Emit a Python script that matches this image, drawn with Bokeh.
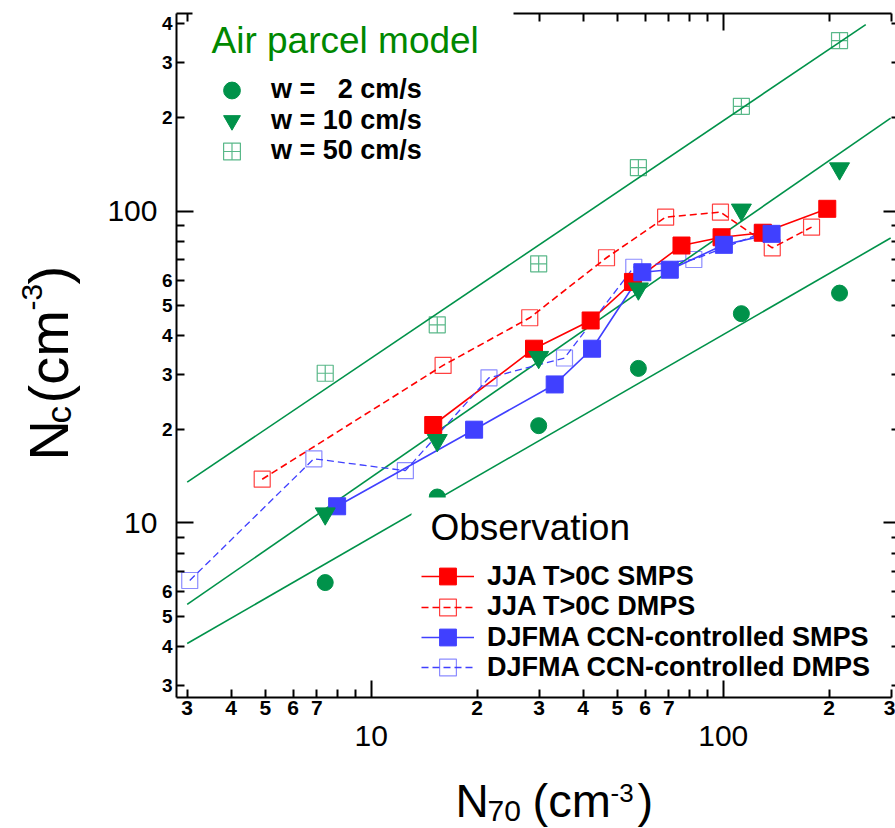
import math
from bokeh.plotting import figure
from bokeh.models import (LogAxis, FixedTicker, Range1d, Legend, LegendItem, Label,
                          BoxAnnotation)
from bokeh.embed import file_html
from bokeh.resources import INLINE

# ---------------- data ----------------
model_x = [7.4, 15.4, 29.9, 57.4, 112.6, 214]
model_w2_y = [6.43, 12.1, 20.5, 31.3, 46.9, 54.6]
model_w10_y = [10.7, 18.4, 34.0, 56.4, 101, 137]
model_w50_y = [30.2, 43.2, 67.8, 138, 217, 353]

fit_w50_x = [3, 254]
fit_w50_y = [13.5, 397]
fit_w10_x = [3, 299]
fit_w10_y = [5.47, 199]
fit_w2_x = [3, 299]
fit_w2_y = [4.1, 82]

jja_smps_x = [15.0, 29.0, 42.0, 55.4, 76.1, 98.9, 129.6, 197.5]
jja_smps_y = [20.6, 36.2, 44.6, 59.3, 77.6, 82.5, 85.3, 101.8]
jja_dmps_x = [4.9, 16.0, 28.2, 46.6, 68.6, 98.2, 137.8, 178.2]
jja_dmps_y = [13.8, 32.0, 45.5, 70.9, 95.7, 99.3, 76.3, 88.9]
djf_smps_x = [8.0, 19.6, 33.2, 42.4, 58.9, 70.5, 100.4, 137.2]
djf_smps_y = [11.3, 19.9, 27.8, 36.2, 63.7, 64.9, 78.0, 84.6]
djf_dmps_x = [3.05, 6.87, 12.5, 21.6, 35.4, 55.7, 82.5, 129.1]
djf_dmps_y = [6.53, 16.05, 14.7, 29.2, 33.8, 66.1, 70.0, 85.3]

x_major = [10, 100]
x_minor = [3, 4, 5, 6, 7, 8, 9, 20, 30, 40, 50, 60, 70, 80, 90, 200, 300]
x_minor_labels = {3: "3", 4: "4", 5: "5", 6: "6", 7: "7", 20: "2", 30: "3", 40: "4",
                  50: "5", 60: "6", 70: "7", 200: "2", 300: "3"}
y_major = [10, 100]
y_minor = [3, 4, 5, 6, 7, 8, 9, 20, 30, 40, 50, 60, 70, 80, 90, 200, 300, 400]
y_minor_labels = {3: "3", 4: "4", 5: "5", 6: "6", 20: "2", 30: "3", 40: "4",
                  50: "5", 60: "6", 200: "2", 300: "3", 400: "4"}
major_labels = {10: "10", 100: "100"}

model_labels = ["w =   2 cm/s", "w = 10 cm/s", "w = 50 cm/s"]
obs_labels = ["JJA T>0C SMPS", "JJA T>0C DMPS",
              "DJFMA CCN-controlled SMPS", "DJFMA CCN-controlled DMPS"]

GREEN = "#00924A"
TITLE_GREEN = "#008800"
RED = "#FF0000"
BLUE = "#4040FF"
FONT = "Liberation Sans"

# axis box limits (data units) and full-canvas view ranges
X_LO, X_HI = 2.797, 300.6
Y_LO, Y_HI = 2.750, 430.9
W, H = 895, 828

p = figure(width=W, height=H, x_axis_type="log", y_axis_type="log",
           x_range=Range1d(0.8845, 308.6), y_range=Range1d(1.0446, 474.5),
           x_axis_location=None, y_axis_location=None,
           output_backend="svg", toolbar_location=None,
           min_border=0, min_border_left=0, min_border_right=0,
           min_border_top=0, min_border_bottom=0)
p.outline_line_color = None
for g in p.grid:
    g.visible = False
p.background_fill_color = "white"
p.border_fill_color = "white"


def tick_axis(ticks, minor, loc, bounds, tick_in, minor_in, tick_out=0, minor_out=0, line=True):
    ax = LogAxis(ticker=FixedTicker(ticks=ticks, minor_ticks=minor),
                 fixed_location=loc, bounds=bounds)
    ax.major_label_overrides = {t: "" for t in ticks}
    ax.major_label_text_font_size = "1px"
    ax.major_label_standoff = 0
    ax.major_tick_in = tick_in
    ax.major_tick_out = tick_out
    ax.minor_tick_in = minor_in
    ax.minor_tick_out = minor_out
    ax.major_tick_line_width = 2
    ax.minor_tick_line_width = 2
    ax.axis_line_width = 2
    ax.major_tick_line_color = "black"
    ax.minor_tick_line_color = "black"
    ax.axis_line_color = "black" if line else None
    return ax


def label_axis(ticks, labels, loc, bounds, size, style, standoff):
    ax = LogAxis(ticker=FixedTicker(ticks=ticks, minor_ticks=[]),
                 fixed_location=loc, bounds=bounds)
    ax.major_label_overrides = labels
    ax.axis_line_color = None
    ax.major_tick_line_color = None
    ax.minor_tick_line_color = None
    ax.major_tick_in = 0
    ax.major_tick_out = 0
    ax.minor_tick_in = 0
    ax.minor_tick_out = 0
    ax.major_label_standoff = standoff
    ax.major_label_text_font = FONT
    ax.major_label_text_font_size = size
    ax.major_label_text_font_style = style
    ax.major_label_text_color = "black"
    return ax


xb = (X_LO, X_HI)
yb = (Y_LO, Y_HI)
# bottom
p.add_layout(tick_axis(x_major, x_minor, Y_LO, xb, 17, 8), "below")
p.add_layout(label_axis(list(x_minor_labels.keys()), x_minor_labels, Y_LO, xb, "21px", "bold", 3), "below")
p.add_layout(label_axis(x_major, major_labels, Y_LO, xb, "30px", "normal", 28), "below")
# left
p.add_layout(tick_axis(y_major, y_minor, X_LO, yb, 17, 8), "left")
p.add_layout(label_axis(list(y_minor_labels.keys()), y_minor_labels, X_LO, yb, "19px", "bold", 4), "left")
p.add_layout(label_axis(y_major, major_labels, X_LO, yb, "30px", "normal", 19), "left")
# top and right
p.add_layout(tick_axis(x_major, x_minor, Y_HI, xb, 17, 8), "above")
p.add_layout(tick_axis(y_major, y_minor, X_HI, yb, 8, 0, 4, 4, line=False), "right")

# model fit lines
p.line(fit_w50_x, fit_w50_y, line_color=GREEN, line_width=1.6)
p.line(fit_w10_x, fit_w10_y, line_color=GREEN, line_width=1.6)
p.line(fit_w2_x, fit_w2_y, line_color=GREEN, line_width=1.6)

# observations
r1l = p.line(jja_smps_x, jja_smps_y, line_color=RED, line_width=1.6)
r2l = p.line(jja_dmps_x, jja_dmps_y, line_color=RED, line_width=1.6, line_dash="7 4")
r3l = p.line(djf_smps_x, djf_smps_y, line_color=BLUE, line_width=1.6)
r4l = p.line(djf_dmps_x, djf_dmps_y, line_color=BLUE, line_width=1.3, line_dash="7 4")
r2m = p.scatter(jja_dmps_x, jja_dmps_y, marker="square", size=16, fill_color=None,
                line_color=RED, line_width=1.2, line_alpha=0.75)
r4m = p.scatter(djf_dmps_x, djf_dmps_y, marker="square", size=16, fill_color=None,
                line_color=BLUE, line_width=1.2, line_alpha=0.6)
r1m = p.scatter(jja_smps_x, jja_smps_y, marker="square", size=17, fill_color=RED, line_color=RED)
r3m = p.scatter(djf_smps_x, djf_smps_y, marker="square", size=17, fill_color=BLUE, line_color=BLUE)

# model points
m2 = p.scatter(model_x, model_w2_y, marker="circle", size=16, fill_color=GREEN, line_color=GREEN)
m10 = p.scatter(model_x, model_w10_y, marker="inverted_triangle", size=20, fill_color=GREEN, line_color=GREEN)
m50 = p.scatter(model_x, model_w50_y, marker="square_cross", size=16, fill_color=None,
                line_color=GREEN, line_width=1.2, line_alpha=0.65)

# ---------------- legend blocks (canvas px: origin top-left) ----------------
def white_box(l, r, t, b):
    p.add_layout(BoxAnnotation(left=l, right=r, top=t, bottom=b,
                               left_units="canvas", right_units="canvas",
                               top_units="canvas", bottom_units="canvas",
                               fill_color="white", fill_alpha=1.0, line_color=None,
                               line_alpha=0))


MID = 0.3465  # distance (in em) from text-box centre to the alphabetic baseline


def lab(x, base, text, px, color="black", rotated=False):
    """x: left start of text (canvas px); base: baseline position (canvas px).
    For rotated text, x is the baseline column and base is the start row."""
    if rotated:
        sx, sy, ang = x - MID * px, H - base, math.pi / 2
    else:
        sx, sy, ang = x, H - (base - MID * px), 0.0
    p.add_layout(Label(x=sx, y=sy, x_units="screen", y_units="screen", text=text,
                       text_font=FONT, text_font_size=f"{px}px", text_color=color,
                       text_baseline="middle", text_align="left", angle=ang))


def legend_row(label, renderers, glyph_left, center_y, gw, standoff):
    lg = Legend(items=[LegendItem(label=label, renderers=renderers)],
                location=(glyph_left, H - (center_y + 21)))
    lg.padding = 0
    lg.margin = 0
    lg.glyph_width = gw
    lg.glyph_height = 42
    lg.spacing = 0
    lg.label_standoff = standoff
    lg.label_text_font = FONT
    lg.label_text_font_size = "27px"
    lg.label_text_font_style = "bold"
    lg.label_text_color = "black"
    lg.label_text_baseline = "middle"
    lg.background_fill_alpha = 0.0
    lg.border_line_color = None
    p.add_layout(lg, "center")


white_box(192, 513, 0, 182)
lab(211, 53.3, "Air parcel model", 37, TITLE_GREEN)
for lbl, rr, cy in zip(model_labels, [[m2], [m10], [m50]], [89.5, 120.0, 150.5]):
    legend_row(lbl, rr, 210, cy, 43, 18)

white_box(411, 881, 497, 678)
lab(430, 540, "Observation", 37)
for lbl, rr, cy in zip(obs_labels, [[r1l, r1m], [r2l, r2m], [r3l, r3m], [r4l, r4m]],
                       [576, 606.5, 637, 667]):
    legend_row(lbl, rr, 421, cy, 53, 13)

# ---------------- axis titles ----------------
lab(455, 816.7, "N", 46)
lab(487, 821, "70", 30)
lab(532, 816.7, "(cm", 47)
lab(610, 801.7, "-3", 26)
lab(637, 816.7, ")", 47)

lab(67, 460, "N", 56, rotated=True)
lab(70, 423, "c", 35, rotated=True)
lab(67, 403, "(cm", 56, rotated=True)
lab(42, 310, "-3", 30, rotated=True)
lab(67, 284, ")", 56, rotated=True)

open("out.html", "w").write(file_html(p, INLINE))
